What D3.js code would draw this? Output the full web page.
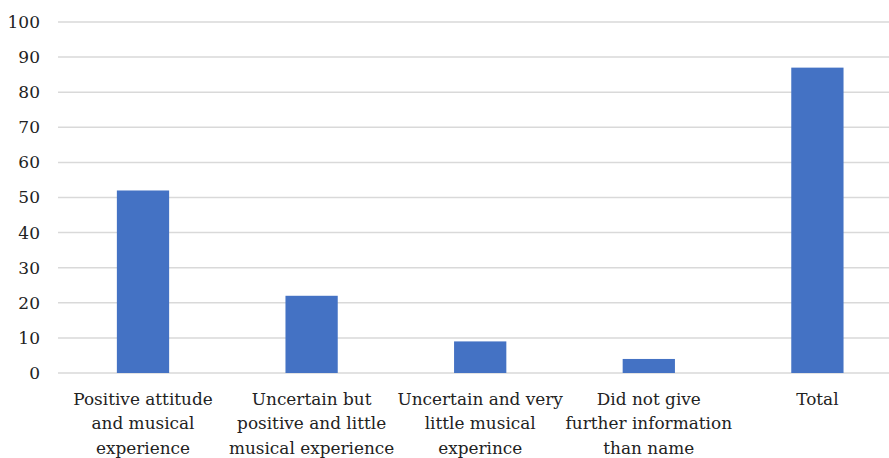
<!DOCTYPE html>
<html>
<head>
<meta charset="utf-8">
<script src="https://cdn.jsdelivr.net/npm/d3@7"></script>
<style>
  body { margin: 0; background: #fff; }
</style>
</head>
<body>
<div id="chart"></div>
<script>
var categories = [
    ["Positive attitude", "and musical", "experience"],
    ["Uncertain but", "positive and little", "musical experience"],
    ["Uncertain and very", "little musical", "experince"],
    ["Did not give", "further information", "than name"],
    ["Total"]
];
var values = [52, 22, 9, 4, 87];
var yTicks = [0, 10, 20, 30, 40, 50, 60, 70, 80, 90, 100];

// Liberation Serif is not picked up here, DejaVu Serif is
var serif = "DejaVu Serif";
var width = 889, height = 458;
var svg = d3.select("#chart").append("svg").attr("width", width).attr("height", height)
    .attr("font-family", serif);

var x = d3.scaleBand().domain(d3.range(categories.length)).range([58.7, 901.7]).paddingInner(0.69).paddingOuter(0.345);
var y = d3.scaleLinear().domain([0, 100]).range([373, 22]);

// gridlines
svg.append("g").selectAll("line").data(yTicks).enter().append("line")
    .attr("x1", 58).attr("x2", width)
    .attr("y1", d => y(d)).attr("y2", d => y(d))
    .attr("stroke", "#d9d9d9").attr("stroke-width", 1.5);

// y axis labels
var yAxis = svg.append("g").attr("transform", "translate(48,0)")
    .call(d3.axisLeft(y).tickValues(yTicks).tickSize(0).tickPadding(8));
yAxis.attr("font-family", serif).attr("font-size", 17);
yAxis.select(".domain").remove();
yAxis.selectAll("text").attr("fill", "#222");

// bars
svg.append("g").selectAll(".bar").data(values).enter().append("rect").attr("class", "bar")
    .attr("x", (d, i) => x(i)).attr("y", d => y(d))
    .attr("width", x.bandwidth()).attr("height", d => y(0) - y(d))
    .attr("fill", "#4472c4");

// category labels
var labels = svg.append("g").attr("font-family", serif).attr("font-size", 16.9)
    .selectAll("text").data(categories).enter().append("text")
    .attr("text-anchor", "middle").attr("fill", "#222")
    .attr("transform", (d, i) => `translate(${x(i) + x.bandwidth() / 2},405)`);
labels.selectAll("tspan").data(d => d).enter().append("tspan")
    .attr("x", 0).attr("dy", (d, j) => j === 0 ? 0 : 24.3)
    .text(d => d);
</script>
</body>
</html>
